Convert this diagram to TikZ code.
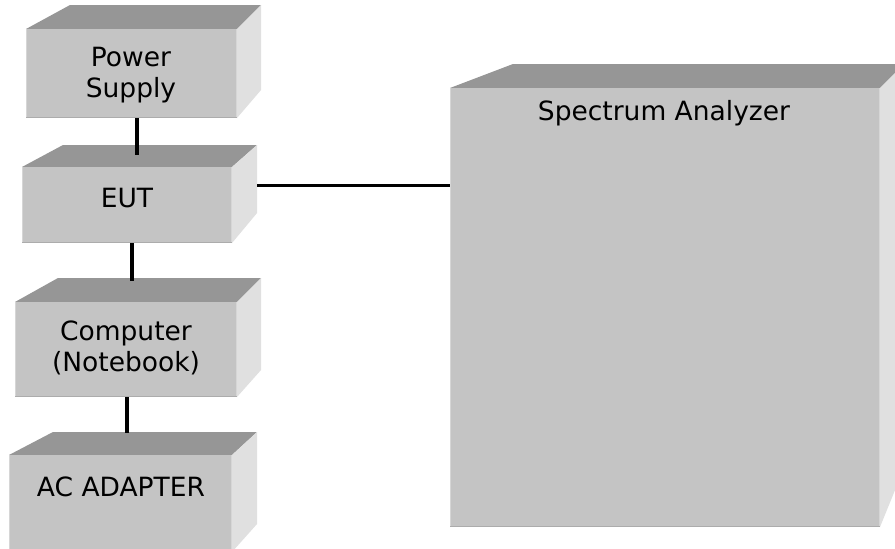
\documentclass[tikz,border=0pt]{standalone}
\usepackage{fontspec}
\setmainfont{DejaVu Sans}
\usetikzlibrary{calc}
\definecolor{frontc}{RGB}{196,196,196}
\definecolor{topc}{RGB}{150,150,150}
\definecolor{sidec}{RGB}{224,224,224}
\definecolor{edgelight}{RGB}{214,214,214}
\definecolor{edgedark}{RGB}{172,172,172}
\tikzset{
  frontface/.style={fill=frontc, draw=none, inner sep=0pt, outer sep=0pt, rectangle},
  topface/.style={fill=topc, draw=none},
  sideface/.style={fill=sidec, draw=none},
  wire/.style={line width=3.5pt, black},
  lbl/.style={font=\fontsize{26.5}{31}\selectfont, align=center, inner sep=0pt, text=black},
}
% #1 name, #2 x1, #3 y1, #4 x2, #5 y2, #6 back-left x, #7 back y, #8 back-right x, #9 side bottom y
\newcommand{\boxcube}[9]{%
  \path[topface] (#2,#3) -- (#6,#7) -- (#8,#7) -- (#4,#3) -- cycle;
  \path[sideface] (#4,#3) -- (#8,#7) -- (#8,#9) -- (#4,#5) -- cycle;
  \node[frontface, minimum width={(#4-#2)*1pt}, minimum height={(#5-#3)*1pt}, anchor=north west] (#1) at (#2,#3) {};
  \draw[edgelight, line width=1pt] (#2+0.5,#3) -- (#2+0.5,#5);
  \draw[edgelight, line width=1pt] (#4-0.5,#3) -- (#4-0.5,#5);
  \draw[edgedark, line width=1pt] (#2,#5-0.5) -- (#4,#5-0.5);
}
\begin{document}
\begin{tikzpicture}[x=1pt,y=-1pt]
\useasboundingbox (0,0) rectangle (895,549);
\clip (0,0) rectangle (895,549);
\fill[white] (0,0) rectangle (895,549);

\boxcube{ps}{26}{29}{237}{118}{70}{5}{261}{90}
\boxcube{eut}{22}{167}{232}{243}{63}{145}{257}{213}
\boxcube{pc}{15}{302}{237}{397}{58}{278}{261}{370}
\boxcube{ac}{9}{455}{232}{552}{53}{432}{257}{524}
\boxcube{sa}{450}{88}{880}{527}{513}{64}{904}{468}

\node[lbl] (pst) at (131,75) {Power\\Supply};
\node[lbl] (eutt) at (127,198) {EUT};
\node[lbl] (pct) at (126,348) {Computer\\(Notebook)};
\node[lbl] (act) at (121,487) {AC ADAPTER};
\node[lbl] (sat) at (664,113) {Spectrum Analyzer};

\coordinate (psend) at (137,155);
\coordinate (eutend) at (132,281);
\coordinate (pcend) at (127,433);
\coordinate (saend) at (257,185.5);

\draw[wire] (ps.south -| psend) -- (psend);
\draw[wire] (eut.south -| eutend) -- (eutend);
\draw[wire] (pc.south -| pcend) -- (pcend);
\draw[wire] (saend) -- (sa.west |- saend);
\end{tikzpicture}
\end{document}
